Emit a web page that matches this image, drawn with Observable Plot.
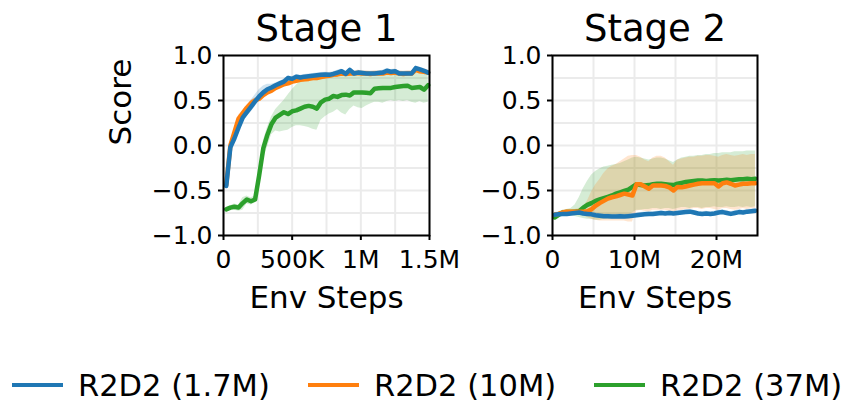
<!DOCTYPE html>
<html><head><meta charset="utf-8">
<script src="https://cdn.jsdelivr.net/npm/d3@7"></script>
<script src="https://cdn.jsdelivr.net/npm/@observablehq/plot@0.6"></script>
<style>
body{margin:0;background:#fff;}
#fig{position:relative;width:847px;height:402px;font-family:"DejaVu Sans",sans-serif;overflow:hidden}
#fig svg{position:absolute;top:0;overflow:visible}
.leg{position:absolute;top:366px;height:38px;display:flex;align-items:center;font-size:30.5px;white-space:nowrap;color:#000}
.sw{display:inline-block;width:51px;height:4px;margin-right:15px}
</style></head><body><div id="fig"></div>
<script>
// ---------- data ----------
const seriesNames = ["R2D2 (1.7M)", "R2D2 (10M)", "R2D2 (37M)"];
const seriesColors = ["#1f77b4", "#ff7f0e", "#2ca02c"];

// Stage 1: env steps (thousands)
const stage1StepsK = [20,50,80,110,140,170,200,230,260,290,320,350,380,410,440,470,500,530,560,590,620,650,680,710,740,770,800,830,860,890,920,950,980,1010,1040,1070,1100,1130,1160,1190,1220,1250,1280,1310,1340,1370,1400,1430,1460,1490];
const s1Blue   = [-0.45,-0.02,0.08,0.20,0.31,0.37,0.43,0.49,0.545,0.59,0.625,0.645,0.67,0.69,0.71,0.75,0.74,0.765,0.755,0.765,0.77,0.775,0.78,0.785,0.79,0.785,0.795,0.81,0.825,0.795,0.84,0.80,0.81,0.805,0.80,0.80,0.80,0.805,0.81,0.83,0.82,0.825,0.80,0.80,0.80,0.80,0.86,0.845,0.83,0.81];
const s1BlueLo = [-0.47,-0.05,0.05,0.16,0.26,0.32,0.37,0.43,0.49,0.54,0.58,0.61,0.645,0.665,0.685,0.725,0.715,0.74,0.73,0.74,0.745,0.75,0.755,0.76,0.765,0.76,0.77,0.785,0.80,0.77,0.815,0.775,0.785,0.78,0.775,0.775,0.775,0.78,0.785,0.805,0.795,0.80,0.775,0.775,0.775,0.775,0.835,0.82,0.805,0.785];
const s1BlueHi = [-0.43,0.01,0.11,0.24,0.36,0.43,0.50,0.56,0.62,0.66,0.68,0.68,0.695,0.715,0.735,0.775,0.765,0.79,0.78,0.79,0.795,0.80,0.805,0.81,0.815,0.81,0.82,0.835,0.85,0.82,0.865,0.825,0.835,0.83,0.825,0.825,0.825,0.83,0.835,0.855,0.845,0.85,0.825,0.825,0.825,0.825,0.885,0.87,0.855,0.835];
const s1Orange   = [-0.44,0.0,0.15,0.30,0.36,0.42,0.47,0.50,0.52,0.56,0.59,0.61,0.64,0.66,0.68,0.69,0.71,0.72,0.73,0.735,0.74,0.75,0.75,0.76,0.77,0.775,0.785,0.79,0.80,0.795,0.80,0.80,0.805,0.80,0.80,0.795,0.80,0.80,0.80,0.81,0.805,0.81,0.80,0.795,0.80,0.80,0.84,0.825,0.82,0.81];
const s1OrangeLo = [-0.47,-0.04,0.11,0.26,0.33,0.39,0.44,0.47,0.49,0.53,0.56,0.58,0.61,0.63,0.65,0.66,0.68,0.69,0.70,0.705,0.71,0.72,0.72,0.73,0.74,0.745,0.755,0.76,0.77,0.765,0.77,0.77,0.775,0.77,0.77,0.765,0.77,0.77,0.77,0.78,0.775,0.78,0.77,0.765,0.77,0.77,0.81,0.795,0.79,0.78];
const s1OrangeHi = [-0.41,0.04,0.19,0.34,0.39,0.45,0.50,0.53,0.55,0.59,0.62,0.64,0.67,0.69,0.71,0.72,0.74,0.75,0.76,0.765,0.77,0.78,0.78,0.79,0.80,0.805,0.815,0.82,0.83,0.825,0.83,0.83,0.835,0.83,0.83,0.825,0.83,0.83,0.83,0.84,0.835,0.84,0.83,0.825,0.83,0.83,0.87,0.855,0.85,0.84];
const s1Green   = [-0.71,-0.69,-0.68,-0.69,-0.64,-0.60,-0.62,-0.60,-0.33,-0.03,0.12,0.24,0.31,0.34,0.37,0.35,0.38,0.39,0.41,0.43,0.44,0.43,0.41,0.48,0.51,0.52,0.55,0.54,0.56,0.565,0.555,0.59,0.59,0.59,0.585,0.58,0.63,0.635,0.64,0.64,0.64,0.65,0.655,0.66,0.665,0.64,0.645,0.65,0.62,0.67];
const s1GreenLo = [-0.73,-0.71,-0.72,-0.73,-0.72,-0.65,-0.66,-0.64,-0.40,-0.15,-0.02,0.12,0.16,0.15,0.16,0.17,0.20,0.22,0.22,0.21,0.20,0.18,0.17,0.28,0.32,0.35,0.37,0.40,0.36,0.34,0.40,0.44,0.42,0.41,0.44,0.46,0.48,0.48,0.47,0.49,0.50,0.49,0.50,0.49,0.50,0.48,0.47,0.49,0.47,0.48];
const s1GreenHi = [-0.69,-0.67,-0.65,-0.66,-0.58,-0.56,-0.58,-0.56,-0.26,0.05,0.20,0.32,0.40,0.45,0.50,0.56,0.62,0.67,0.71,0.74,0.76,0.77,0.77,0.78,0.78,0.78,0.78,0.78,0.78,0.78,0.78,0.78,0.78,0.79,0.79,0.78,0.79,0.80,0.80,0.80,0.80,0.80,0.80,0.81,0.80,0.80,0.81,0.81,0.80,0.81];

// Stage 2: env steps (millions)
const stage2StepsM = [0.25,0.75,1.25,1.75,2.25,2.75,3.25,3.75,4.25,4.75,5.25,5.75,6.25,6.75,7.25,7.75,8.25,8.75,9.25,9.75,10.25,10.75,11.25,11.75,12.25,12.75,13.25,13.75,14.25,14.75,15.25,15.75,16.25,16.75,17.25,17.75,18.25,18.75,19.25,19.75,20.25,20.75,21.25,21.75,22.25,22.75,23.25,23.75,24.25,24.75];
const s2Blue   = [-0.77,-0.765,-0.76,-0.76,-0.755,-0.75,-0.745,-0.755,-0.76,-0.765,-0.775,-0.78,-0.785,-0.785,-0.79,-0.79,-0.785,-0.79,-0.785,-0.78,-0.775,-0.77,-0.765,-0.76,-0.76,-0.755,-0.75,-0.755,-0.75,-0.755,-0.75,-0.745,-0.74,-0.735,-0.745,-0.755,-0.76,-0.755,-0.76,-0.755,-0.745,-0.74,-0.75,-0.76,-0.75,-0.74,-0.745,-0.735,-0.73,-0.725];
const s2BlueLo = [-0.795,-0.79,-0.785,-0.785,-0.78,-0.775,-0.77,-0.78,-0.785,-0.79,-0.80,-0.805,-0.81,-0.81,-0.815,-0.815,-0.81,-0.815,-0.81,-0.805,-0.80,-0.795,-0.79,-0.785,-0.785,-0.78,-0.775,-0.78,-0.775,-0.78,-0.775,-0.77,-0.765,-0.76,-0.77,-0.78,-0.785,-0.78,-0.785,-0.78,-0.77,-0.765,-0.775,-0.785,-0.775,-0.765,-0.77,-0.76,-0.755,-0.75];
const s2BlueHi = [-0.745,-0.74,-0.735,-0.735,-0.73,-0.725,-0.72,-0.73,-0.735,-0.74,-0.75,-0.755,-0.76,-0.76,-0.765,-0.765,-0.76,-0.765,-0.76,-0.755,-0.75,-0.745,-0.74,-0.735,-0.735,-0.73,-0.725,-0.73,-0.725,-0.73,-0.725,-0.72,-0.715,-0.71,-0.72,-0.73,-0.735,-0.73,-0.735,-0.73,-0.72,-0.715,-0.725,-0.735,-0.725,-0.715,-0.72,-0.71,-0.705,-0.70];
const s2Orange   = [-0.77,-0.76,-0.745,-0.735,-0.735,-0.735,-0.735,-0.735,-0.73,-0.71,-0.67,-0.64,-0.615,-0.59,-0.575,-0.565,-0.55,-0.535,-0.545,-0.555,-0.43,-0.43,-0.455,-0.48,-0.445,-0.445,-0.445,-0.45,-0.465,-0.50,-0.46,-0.465,-0.455,-0.445,-0.435,-0.425,-0.42,-0.42,-0.42,-0.42,-0.455,-0.42,-0.41,-0.425,-0.445,-0.435,-0.425,-0.425,-0.42,-0.42];
const s2OrangeLo = [-0.80,-0.79,-0.77,-0.76,-0.76,-0.76,-0.77,-0.78,-0.80,-0.82,-0.83,-0.84,-0.84,-0.84,-0.84,-0.84,-0.84,-0.84,-0.85,-0.85,-0.73,-0.72,-0.73,-0.74,-0.72,-0.72,-0.72,-0.72,-0.73,-0.75,-0.72,-0.72,-0.71,-0.71,-0.70,-0.70,-0.71,-0.70,-0.70,-0.71,-0.72,-0.70,-0.70,-0.71,-0.72,-0.71,-0.70,-0.71,-0.70,-0.70];
const s2OrangeHi = [-0.75,-0.74,-0.72,-0.71,-0.71,-0.71,-0.70,-0.68,-0.62,-0.52,-0.44,-0.38,-0.31,-0.26,-0.23,-0.21,-0.18,-0.15,-0.12,-0.11,-0.11,-0.13,-0.16,-0.18,-0.14,-0.12,-0.12,-0.14,-0.18,-0.22,-0.16,-0.15,-0.14,-0.13,-0.13,-0.12,-0.12,-0.11,-0.11,-0.12,-0.13,-0.11,-0.10,-0.11,-0.12,-0.11,-0.10,-0.11,-0.10,-0.10];
const s2Green   = [-0.80,-0.77,-0.745,-0.74,-0.74,-0.735,-0.73,-0.69,-0.66,-0.64,-0.615,-0.60,-0.585,-0.57,-0.555,-0.535,-0.52,-0.505,-0.49,-0.46,-0.43,-0.44,-0.445,-0.44,-0.43,-0.425,-0.425,-0.43,-0.435,-0.44,-0.425,-0.415,-0.405,-0.40,-0.395,-0.39,-0.39,-0.395,-0.39,-0.385,-0.39,-0.385,-0.38,-0.385,-0.38,-0.375,-0.375,-0.37,-0.375,-0.37];
const s2GreenLo = [-0.82,-0.80,-0.78,-0.77,-0.78,-0.79,-0.80,-0.81,-0.82,-0.82,-0.83,-0.83,-0.82,-0.82,-0.81,-0.80,-0.79,-0.78,-0.77,-0.75,-0.72,-0.72,-0.71,-0.71,-0.70,-0.70,-0.71,-0.70,-0.70,-0.71,-0.70,-0.69,-0.69,-0.70,-0.69,-0.69,-0.70,-0.69,-0.69,-0.68,-0.69,-0.69,-0.68,-0.69,-0.69,-0.68,-0.69,-0.68,-0.69,-0.68];
const s2GreenHi = [-0.78,-0.74,-0.72,-0.71,-0.70,-0.66,-0.58,-0.48,-0.40,-0.33,-0.29,-0.26,-0.24,-0.23,-0.22,-0.21,-0.20,-0.18,-0.16,-0.14,-0.13,-0.14,-0.15,-0.16,-0.15,-0.14,-0.14,-0.15,-0.17,-0.19,-0.16,-0.14,-0.13,-0.12,-0.12,-0.11,-0.11,-0.10,-0.10,-0.09,-0.09,-0.08,-0.08,-0.08,-0.07,-0.07,-0.07,-0.06,-0.06,-0.06];

// ticks
const yTicks = [-1, -0.5, 0, 0.5, 1];
const yTickLabels = ["−1.0", "−0.5", "0.0", "0.5", "1.0"];
const yGrid = [-1, -0.75, -0.5, -0.25, 0, 0.25, 0.5, 0.75, 1];
const s1XTicks = [0, 500000, 1000000, 1500000];
const s1XTickLabels = ["0", "500K", "1M", "1.5M"];
const s1XGrid = [0, 250000, 500000, 750000, 1000000, 1250000, 1500000];
const s2XTicks = [0, 10000000, 20000000];
const s2XTickLabels = ["0", "10M", "20M"];
const s2XGrid = [0, 5000000, 10000000, 15000000, 20000000, 25000000];

// ---------- build ----------
function rows(xs, mean, lo, hi) {
  return xs.map((x, i) => ({x, y: mean[i], lo: lo[i], hi: hi[i]}));
}
const stage1 = [
  rows(stage1StepsK.map(k => k * 1000), s1Blue, s1BlueLo, s1BlueHi),
  rows(stage1StepsK.map(k => k * 1000), s1Orange, s1OrangeLo, s1OrangeHi),
  rows(stage1StepsK.map(k => k * 1000), s1Green, s1GreenLo, s1GreenHi)
];
const stage2 = [
  rows(stage2StepsM.map(m => m * 1e6), s2Blue, s2BlueLo, s2BlueHi),
  rows(stage2StepsM.map(m => m * 1e6), s2Orange, s2OrangeLo, s2OrangeHi),
  rows(stage2StepsM.map(m => m * 1e6), s2Green, s2GreenLo, s2GreenHi)
];

function panel({title, data, xDomain, xTicks, xTickLabels, xGrid, width, marginLeft, marginRight, yLabel}) {
  const xFmt = new Map(xTicks.map((t, i) => [t, xTickLabels[i]]));
  const yFmt = new Map(yTicks.map((t, i) => [t, yTickLabels[i]]));
  const drawOrder = [2, 1, 0];
  const marks = [
    Plot.gridX(xGrid, {stroke: "#ebebeb", strokeOpacity: 1, strokeWidth: 2}),
    Plot.gridY(yGrid, {stroke: "#ebebeb", strokeOpacity: 1, strokeWidth: 2}),
    ...drawOrder.map(s => Plot.areaY(data[s], {x: "x", y1: "lo", y2: "hi", fill: seriesColors[s], fillOpacity: 0.2})),
    ...drawOrder.map(s => Plot.lineY(data[s], {x: "x", y: "y", stroke: seriesColors[s], strokeWidth: 4.5, strokeLinejoin: "round"})),
    Plot.frame({stroke: "black", strokeWidth: 2}),
    Plot.axisX(xTicks, {tickFormat: d => xFmt.get(d), fontSize: 25, tickSize: 5, tickPadding: 10, strokeWidth: 2, label: null, fill: "black"}),
    Plot.axisY(yTicks, {tickFormat: d => yFmt.get(d), fontSize: 25, tickSize: 5, tickPadding: 6, strokeWidth: 2, label: null, fill: "black"}),
    Plot.text([title], {frameAnchor: "top", lineAnchor: "bottom", dy: -15, fontSize: 37, fill: "black"}),
    Plot.text(["Env Steps"], {frameAnchor: "bottom", lineAnchor: "bottom", dy: 72, fontSize: 31, fill: "black"})
  ];
  if (yLabel) marks.push(Plot.text([yLabel], {frameAnchor: "left", rotate: -90, lineAnchor: "middle", dx: -102, fontSize: 31, fill: "black"}));
  return Plot.plot({
    width, height: 320,
    marginTop: 55, marginBottom: 85, marginLeft, marginRight,
    x: {domain: xDomain},
    y: {domain: [-1, 1]},
    style: {fontFamily: "DejaVu Sans, sans-serif", background: "transparent", overflow: "visible"},
    marks
  });
}

const fig = document.getElementById("fig");
const p1 = panel({title: "Stage 1", data: stage1, xDomain: [0, 1500000], xTicks: s1XTicks, xTickLabels: s1XTickLabels, xGrid: s1XGrid, width: 440, marginLeft: 223, marginRight: 11, yLabel: "Score"});
p1.style.left = "0px";
fig.appendChild(p1);
const p2 = panel({title: "Stage 2", data: stage2, xDomain: [0, 25000000], xTicks: s2XTicks, xTickLabels: s2XTickLabels, xGrid: s2XGrid, width: 407, marginLeft: 112, marginRight: 90});
p2.style.left = "440px";
fig.appendChild(p2);

// legend
const legendLeft = [12, 308, 594];
seriesNames.forEach((name, i) => {
  const d = document.createElement("div");
  d.className = "leg";
  d.style.left = legendLeft[i] + "px";
  const sw = document.createElement("span");
  sw.className = "sw";
  sw.style.background = seriesColors[i];
  d.appendChild(sw);
  d.appendChild(document.createTextNode(name));
  fig.appendChild(d);
});
</script></body></html>
